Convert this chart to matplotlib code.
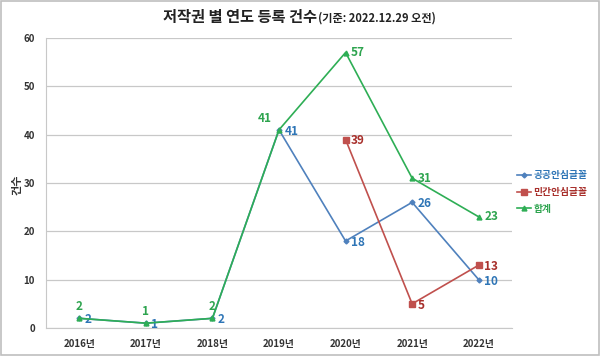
import numpy as np
import matplotlib.pyplot as plt
from matplotlib.patches import Rectangle

plt.rcParams['font.family'] = ['Noto Sans CJK KR', 'DejaVu Sans']

years = ['2016년', '2017년', '2018년', '2019년', '2020년', '2021년', '2022년']
public_font = [2, 1, 2, 41, 18, 26, 10]
private_font = [None, None, None, None, 39, 5, 13]
total = [2, 1, 2, 41, 57, 31, 23]

blue = '#4F81BD'
blue_txt = '#2E75B6'
red = '#C0504D'
red_txt = '#A8302C'
green = '#2EAE55'
green_txt = '#2EA44F'

fig = plt.figure(figsize=(6, 3.56), dpi=100)
fig.patches.append(Rectangle((0.002, 0.003), 0.996, 0.994, transform=fig.transFigure,
                             fill=False, edgecolor='#BFBFBF', linewidth=1.2))
ax = fig.add_axes([46 / 600, 28 / 356, 466 / 600, 290 / 356])

x = np.arange(len(years))
priv = np.array([np.nan if v is None else v for v in private_font], dtype=float)

ax.plot(x, public_font, color=blue, lw=1.2, marker='D', ms=2.5, label='공공안심글꼴', zorder=3)
ax.plot(x, priv, color=red, lw=1.2, marker='s', ms=4, label='민간안심글꼴', zorder=3)
ax.plot(x, total, color=green, lw=1.2, marker='^', ms=3.5, label='합계', zorder=4)

lab = dict(fontsize=8.5, fontweight='bold', va='center')
for i, v in enumerate(public_font):
    ax.annotate(str(v), (i, v), xytext=(4, -1), textcoords='offset points', color=blue_txt, ha='left', **lab)
for i, v in enumerate(private_font):
    if v is not None:
        ax.annotate(str(v), (i, v), xytext=(4, -1), textcoords='offset points', color=red_txt, ha='left', **lab)
for i, v in enumerate(total):
    if i < 3:
        off, ha = (0, 8.5), 'center'
    elif i == 3:
        off, ha = (-5, 8), 'right'
    else:
        off, ha = (4, 0), 'left'
    ax.annotate(str(v), (i, v), xytext=off, textcoords='offset points', color=green_txt, ha=ha, **lab)

ax.set_xlim(-0.5, len(years) - 0.5)
ax.set_ylim(0, 60)
ax.set_yticks(range(0, 61, 10))
ax.set_xticks(x)
ax.set_xticklabels(years)
ax.tick_params(length=0, labelsize=7, colors='#333333', pad=8)
for t in ax.get_xticklabels() + ax.get_yticklabels():
    t.set_fontweight('bold')
ax.grid(axis='y', color='#C8C8C8', lw=0.9)
ax.set_axisbelow(True)
for s in ['top', 'right']:
    ax.spines[s].set_visible(False)
ax.spines['left'].set_color('#C8C8C8')
ax.spines['bottom'].set_color('#C8C8C8')

fig.text(17 / 600, 1 - 185 / 356, '건수', rotation=90, ha='center', va='center',
         fontsize=8, fontweight='bold', color='#333333')

fig.text(317 / 600, 1 - 17 / 356, '저작권 별 연도 등록 건수', ha='right', va='center',
         fontsize=11, fontweight='bold', color='#222222')
fig.text(318 / 600, 1 - 18 / 356, '(기준: 2022.12.29 오전)', ha='left', va='center',
         fontsize=8, fontweight='bold', color='#222222')

leg = fig.legend(loc='center left', bbox_to_anchor=(508 / 600, 1 - 192 / 356), frameon=False,
                 fontsize=7, handlelength=1.5, handletextpad=0.2, labelspacing=0.7)
for t, c in zip(leg.get_texts(), [blue_txt, red_txt, green_txt]):
    t.set_color(c)
    t.set_fontweight('bold')

fig.savefig('out.png', dpi=100)
